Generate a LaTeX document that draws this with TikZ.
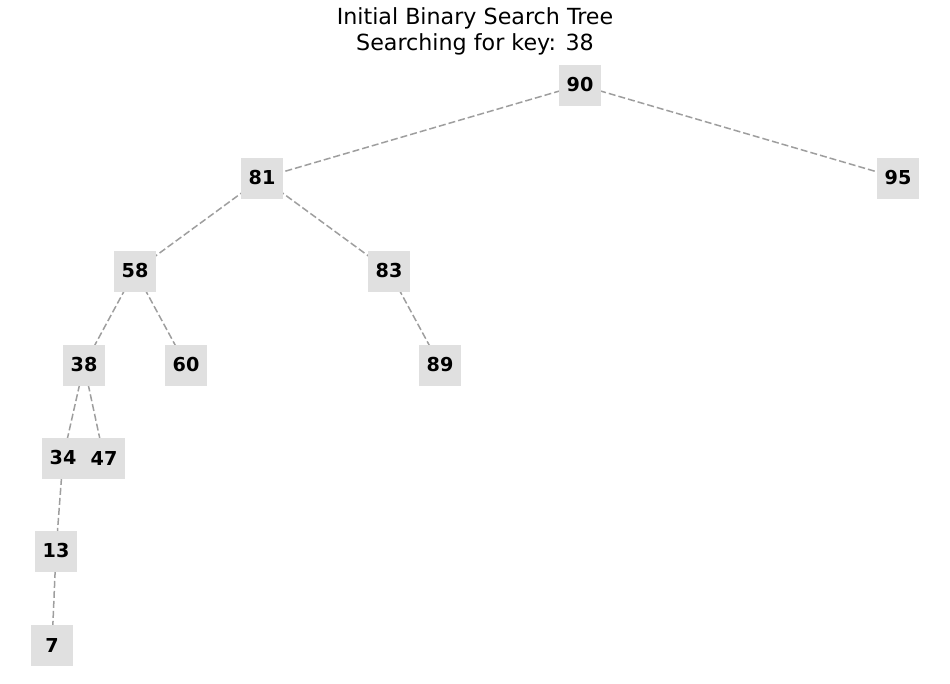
\documentclass[tikz,border=0pt]{standalone}
\usepackage{fontspec}
\setmainfont{DejaVu Sans}
\usetikzlibrary{calc}
\definecolor{boxgray}{HTML}{E0E0E0}
\definecolor{edgegray}{HTML}{9E9E9E}
\tikzset{
	keybox/.style={
			fill=boxgray, draw=none, minimum width=41.5pt, minimum height=41pt,
			inner sep=0pt, font=\fontsize{19.2}{21}\selectfont\bfseries
		},
	treeedge/.style={
			draw=edgegray, line width=1.5pt, dash pattern=on 7pt off 3pt
		}
}

\begin{document}
\begin{tikzpicture}[x=1pt,y=-1pt]
    \useasboundingbox (0,0) rectangle (950,683);

    % Title
    \node[align=center, font=\fontsize{22.2}{26}\selectfont] (title) at (475,31)
      {Initial Binary Search Tree\\Searching for key: 38};

    % Keys and their positions
    \foreach \k/\x/\y in {90/580/85, 81/262/178, 95/898/178, 58/135/271,
                          83/389/271, 38/84/365, 60/186/365, 89/440/365,
                          34/63/458, 47/104/458, 13/56/551, 7/52/645} {
      \coordinate (c\k) at (\x,\y);
    }

    % Draw edges (behind the boxes)
    \foreach \a/\b in {90/81, 90/95, 81/58, 81/83, 58/38, 58/60,
                       83/89, 38/34, 38/47, 34/13, 13/7} {
      \draw[treeedge] (c\a) -- (c\b);
    }

    % Draw key boxes
    \foreach \k in {90,81,95,58,83,38,60,89,34,47,13,7} {
      \node[keybox] (k\k) at (c\k) {\k};
    }
  \end{tikzpicture}
\end{document}
